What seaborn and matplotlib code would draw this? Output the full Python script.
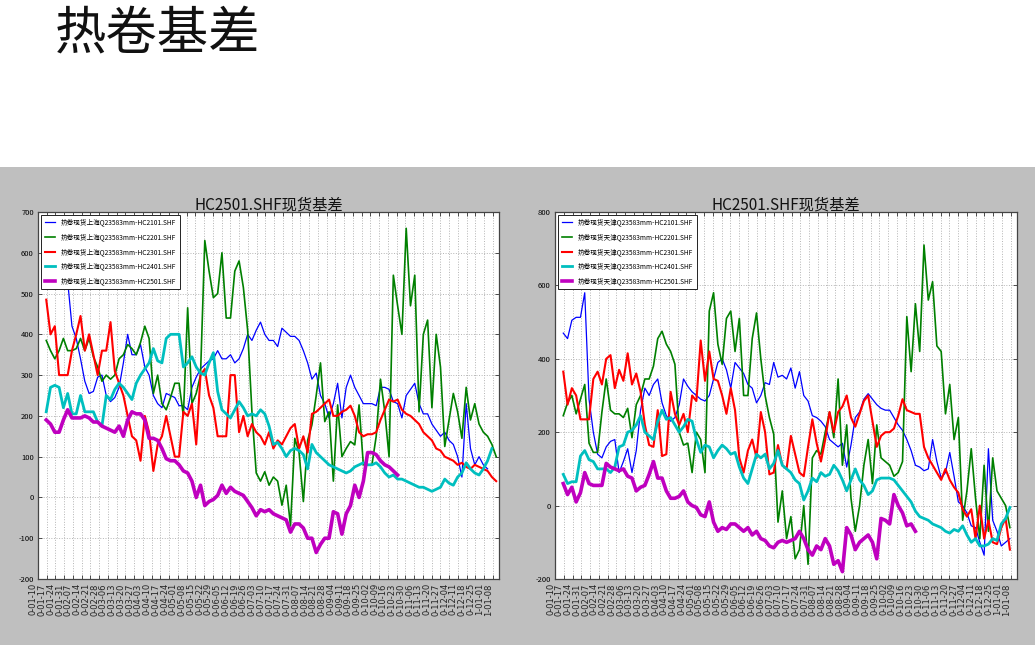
import numpy as np
import pandas as pd
import matplotlib
matplotlib.use("Agg")
import matplotlib.pyplot as plt
import seaborn as sns
from matplotlib.patches import Rectangle

# ---------------- data ----------------
tick_labels = [
    "0-01-10", "0-01-17", "0-01-24", "0-01-31", "0-02-07", "0-02-14", "0-02-21", "0-02-28",
    "0-03-06", "0-03-13", "0-03-20", "0-03-27", "0-04-03", "0-04-10", "0-04-17", "0-04-24",
    "0-05-01", "0-05-08", "0-05-15", "0-05-22", "0-05-29", "0-06-05", "0-06-12", "0-06-19",
    "0-06-26", "0-07-03", "0-07-10", "0-07-17", "0-07-24", "0-07-31", "0-08-07", "0-08-14",
    "0-08-21", "0-08-28", "0-09-04", "0-09-11", "0-09-18", "0-09-25", "0-10-02", "0-10-09",
    "0-10-16", "0-10-23", "0-10-30", "0-11-06", "0-11-13", "0-11-20", "0-11-27", "0-12-04",
    "0-12-11", "0-12-18", "0-12-25", "1-01-01", "1-01-08",
]

contracts = ["HC2101", "HC2201", "HC2301", "HC2401", "HC2501"]

# Shanghai spot basis (sampled twice a week)
sh_2101 = [None, None, None, None, None,
           530, 420, 390, 340, 285, 255, 260, 295, 300, 250, 235, 245, 270, 330, 400, 350, 350,
           375, 320, 300, 250, 230, 220, 255, 250, 245, 225, 225, 215, 270, 295, 315, 325, 335,
           340, 360, 340, 340, 350, 330, 340, 365, 400, 385, 410, 430, 400, 385, 385, 370, 415,
           405, 395, 395, 385, 360, 330, 290, 305, 250, 230, 195, 230, 280, 195, 270, 300, 270,
           250, 230, 230, 230, 225, 270, 270, 265, 235, 230, 195, 250, 265, 280, 230, 205, 205,
           180, 165, 150, 160, 140, 130, 100, 50, 230, 120, 80, 100, 80, 70]
sh_2201 = [385, 360, 340, 360, 390, 360, 360, 365, 390, 360,
           390, 345, 320, 285, 300, 290, 300, 340, 350, 375,
           365, 350, 380, 420, 390, 255, 300, 230, 215, 245,
           280, 280, 200, 465, 230, 255, 300, 630, 555, 490,
           500, 600, 440, 440, 555, 580, 515, 410, 210, 60,
           40, 63, 30, 50, 40, -19, 30, -70, 145, 110,
           -10, 140, 178, 250, 330, 186, 210, 40, 227, 100,
           120, 137, 129, 227, 80, 80, 80, 150, 290, 210,
           100, 545, 470, 400, 660, 470, 545, 210, 400, 435,
           220, 400, 320, 125, 190, 255, 210, 145, 270, 190,
           230, 180, 160, 150, 130, 100]
sh_2301 = [485, 400, 420, 300, 300, 300, 360, 400, 445, 360,
           400, 350, 300, 360, 360, 430, 310, 280, 250, 200,
           150, 140, 90, 200, 160, 65, 130, 150, 200, 150,
           100, 100, 210, 200, 230, 130, 300, 315, 250, 220,
           150, 150, 150, 300, 300, 160, 200, 150, 180, 160,
           150, 130, 160, 120, 140, 130, 150, 170, 180, 120,
           150, 110, 205, 210, 220, 230, 240, 200, 200, 210,
           215, 225, 200, 160, 150, 155, 155, 160, 190, 215,
           240, 235, 240, 215, 205, 200, 190, 180, 160, 150,
           140, 120, 115, 100, 95, 90, 80, 85, 75, 70,
           80, 75, 70, 65, 50, 40]
sh_2401 = [210, 270, 275, 270, 220, 255, 205, 205, 250, 210,
           210, 210, 185, 175, 250, 240, 265, 280, 270, 255,
           240, 280, 300, 315, 330, 365, 335, 330, 390, 400,
           400, 400, 320, 330, 345, 320, 305, 300, 330, 355,
           260, 215, 205, 195, 215, 235, 220, 200, 205, 200,
           215, 205, 175, 130, 135, 120, 100, 115, 120, 115,
           105, 70, 130, 110, 100, 90, 80, 75, 70, 65,
           60, 65, 75, 80, 85, 80, 80, 85, 75, 60,
           50, 55, 45, 45, 40, 35, 30, 25, 25, 20,
           15, 20, 25, 45, 35, 30, 50, 60, 85, 70,
           60, 55, 70, 90, 120]
sh_2501 = [190, 180, 160, 160, 190, 215, 195, 195, 195, 200,
           195, 185, 185, 175, 170, 165, 160, 175, 150, 190,
           210, 205, 205, 190, 145, 145, 140, 120, 95, 90,
           90, 80, 65, 60, 40, 0, 30, -20, -10, -5,
           5, 30, 10, 25, 15, 10, 5, -10, -25, -45,
           -30, -35, -30, -40, -45, -50, -55, -85, -65, -65,
           -75, -100, -100, -135, -115, -100, -100, -35, -40, -90,
           -40, -20, 30, 0, 40, 110, 110, 105, 90, 80,
           75, 65, 55]

# Tianjin spot basis
tj_2101 = [470, 455, 505, 513, 513, 580, 290, 200, 140, 130,
           160, 175, 180, 90, 120, 155, 90, 150, 260, 320,
           300, 330, 345, 280, 245, 230, 240, 275, 345, 325,
           310, 300, 290, 285, 300, 345, 390, 400, 370, 320,
           390, 375, 360, 330, 320, 280, 300, 335, 330, 390,
           350, 355, 345, 375, 320, 365, 300, 285, 245, 240,
           230, 215, 180, 170, 160, 170, 105, 165, 240, 255,
           290, 305, 290, 275, 265, 260, 260, 240, 220, 205,
           180, 150, 110, 105, 95, 100, 180, 120, 75, 90,
           145, 80, 10, 0, -20, -55, -60, -100, -135, 155,
           -40, -70, -110, -100, -90]
tj_2201 = [245, 280, 300, 250, 290, 330, 170, 145, 145, 255,
           345, 260, 250, 250, 240, 265, 185, 275, 300, 345,
           345, 380, 455, 475, 440, 420, 385, 200, 165, 170,
           90, 200, 180, 90, 530, 580, 440, 385, 510, 530,
           420, 510, 300, 300, 455, 525, 400, 300, 240, 195,
           -45, 40, -90, -30, -145, -120, 0, -160, 130, 150,
           140, 200, 255, 185, 345, 110, 220, 20, -70, 0,
           110, 180, 60, 220, 130, 120, 110, 80, 90, 120,
           515, 365, 550, 420, 710, 560, 610, 435, 420, 250,
           330, 180, 240, -40, 40, 155, 20, -90, 110, -70,
           130, 40, 20, 0, -60]
tj_2301 = [365, 275, 320, 300, 235, 235, 235, 345, 365, 330,
           400, 410, 320, 370, 340, 415, 330, 360, 310, 220,
           165, 160, 260, 135, 140, 310, 250, 220, 250, 200,
           300, 285, 450, 340, 420, 345, 340, 300, 250, 320,
           260, 130, 90, 150, 180, 130, 255, 200, 85, 90,
           165, 110, 100, 190, 140, 90, 80, 160, 235, 170,
           120, 180, 255, 200, 255, 270, 300, 240, 215, 250,
           285, 300, 230, 160, 190, 200, 200, 210, 245, 290,
           260, 255, 250, 250, 160, 130, 110, 90, 70, 100,
           70, 50, 35, -10, -30, -10, -90, 0, -90, -40,
           -100, -105, -60, -35, -120]
tj_2401 = [85, 60, 65, 65, 135, 150, 125, 120, 100, 100,
           100, 90, 105, 160, 165, 200, 205, 220, 245, 200,
           190, 180, 230, 260, 235, 240, 220, 200, 215, 235,
           230, 180, 145, 165, 160, 130, 150, 165, 155, 140,
           145, 105, 75, 60, 100, 140, 130, 140, 100, 115,
           150, 110, 100, 90, 70, 60, 15, 40, 75, 65,
           90, 80, 85, 110, 95, 70, 40, 70, 100, 70,
           55, 30, 40, 70, 75, 75, 75, 70, 55, 40,
           25, 10, -15, -30, -35, -40, -50, -55, -60, -70,
           -75, -65, -70, -55, -80, -100, -90, -110, -110, -105,
           -90, -95, -50, -35, -5]
tj_2501 = [60, 30, 50, 10, 35, 90, 60, 55, 55, 55,
           115, 105, 100, 95, 100, 80, 75, 40, 50, 55,
           85, 120, 75, 75, 40, 20, 20, 25, 40, 10,
           0, -5, -25, -30, 10, -45, -70, -60, -65, -50,
           -50, -60, -70, -60, -80, -70, -90, -95, -110, -115,
           -100, -95, -100, -95, -90, -70, -90, -120, -135, -110,
           -120, -90, -110, -160, -150, -180, -60, -80, -120, -100,
           -90, -80, -100, -145, -35, -40, -50, 30, 0, -20,
           -55, -50, -70]

sh_series = [sh_2101, sh_2201, sh_2301, sh_2401, sh_2501]
tj_series = [tj_2101, tj_2201, tj_2301, tj_2401, tj_2501]

# sampling calendar (days after 2020-01-10)
SAMPLE_START_DAY = 6.6
SAMPLE_STEP_DAYS = 3.43

# ---------------- style ----------------
colors = [(0, 0, 1), (0, 0.5, 0), (1, 0, 0), (0, 0.75, 0.75), (0.75, 0, 0.75)]
widths = [0.9, 1.2, 1.5, 2.0, 2.6]
CJK = ["Noto Sans CJK SC", "DejaVu Sans"]
plt.rcParams["font.family"] = CJK
plt.rcParams["axes.unicode_minus"] = False

fig = plt.figure(figsize=(10.35, 6.55), dpi=100, facecolor="white")
H = 655.0
W = 1035.0
bg = Rectangle((0, 1 - 645 / H), 1, (645 - 167) / H,
               transform=fig.transFigure, facecolor="#bfbfbf",
               edgecolor="none", zorder=-10)
fig.add_artist(bg)
fig.text(55 / W, 1 - 34 / H, "热卷基差", fontsize=37, va="center", ha="left",
         color="#111111", family=CJK, zorder=5)


def draw_panel(rect, series, city, ylim, ystep):
    ax = fig.add_axes(rect)
    ax.set_zorder(2)
    ax.set_facecolor("white")
    for vals, con, col, lw in zip(series, contracts, colors, widths):
        df = pd.DataFrame({
            "day": SAMPLE_START_DAY + SAMPLE_STEP_DAYS * np.arange(len(vals)),
            "basis": pd.to_numeric(pd.Series(vals, dtype="object"), errors="coerce"),
        }).dropna()
        sns.lineplot(data=df, x="day", y="basis", ax=ax, color=col, linewidth=lw,
                     estimator=None, sort=False,
                     label=f"热卷现货{city}Q23583mm-{con}.SHF")
    ticks = np.arange(len(tick_labels)) * 7
    ax.set_xlim(0, 369)
    ax.set_xticks(ticks)
    ax.set_xticklabels(tick_labels, rotation=90, ha="right", fontsize=6,
                       family="DejaVu Sans", color="#222222")
    ax.set_ylim(*ylim)
    ax.set_yticks(np.arange(ylim[0], ylim[1] + 1, ystep))
    ax.tick_params(axis="y", labelsize=5.5)
    ax.tick_params(direction="in", length=3, width=0.6, top=True, right=True,
                   color="#333333", pad=3)
    ax.set_xlabel("")
    ax.set_ylabel("")
    ax.grid(True, color="#b4b4b4", linestyle=":", linewidth=0.7)
    for s in ax.spines.values():
        s.set_color("#444444")
        s.set_linewidth(0.9)
    ax.set_title("HC2501.SHF现货基差", fontsize=11, pad=2, color="#111111")
    leg = ax.legend(loc="upper left", fontsize=4.8, frameon=True, fancybox=False,
                    framealpha=1, edgecolor="#222222", borderaxespad=0.4,
                    handlelength=1.5, handletextpad=0.9, labelspacing=1.0,
                    borderpad=0.6)
    leg.get_frame().set_linewidth(0.7)
    return ax


draw_panel([38 / W, 1 - 579 / H, 461 / W, 367 / H], sh_series, "上海", (-200, 700), 100)
draw_panel([555 / W, 1 - 579 / H, 462 / W, 367 / H], tj_series, "天津", (-200, 800), 200)

fig.savefig("out.png", dpi=100, facecolor="white")
